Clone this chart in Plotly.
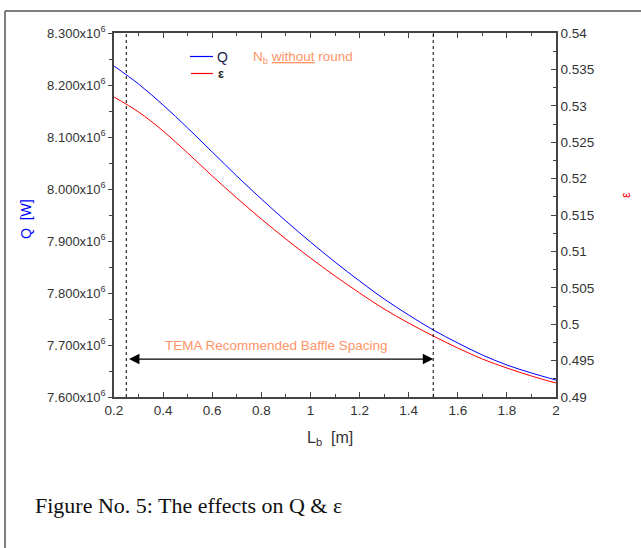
import plotly.graph_objects as go

# ---- data ----
Lb = [0.2, 0.3, 0.4, 0.5, 0.6, 0.7, 0.8, 0.9, 1.0, 1.1, 1.2, 1.3, 1.4, 1.5, 1.6, 1.7, 1.8, 1.9, 2.0]
Q_W = [8.2365e6, 8.2019e6, 8.1615e6, 8.1173e6, 8.0712e6, 8.0250e6, 7.9808e6, 7.9385e6, 7.8981e6,
       7.8596e6, 7.8231e6, 7.7885e6, 7.7577e6, 7.7289e6, 7.7039e6, 7.6808e6, 7.6615e6, 7.6462e6, 7.6327e6]
eps = [0.53121, 0.52915, 0.52654, 0.52352, 0.52036, 0.51734, 0.51445, 0.51170, 0.50909, 0.50662,
       0.50429, 0.50209, 0.50016, 0.49838, 0.49673, 0.49522, 0.49398, 0.49288, 0.49192]

q_ticks = [7.6e6, 7.7e6, 7.8e6, 7.9e6, 8.0e6, 8.1e6, 8.2e6, 8.3e6]
q_ticktext = ["7.600x10<sup>6</sup>", "7.700x10<sup>6</sup>", "7.800x10<sup>6</sup>", "7.900x10<sup>6</sup>",
              "8.000x10<sup>6</sup>", "8.100x10<sup>6</sup>", "8.200x10<sup>6</sup>", "8.300x10<sup>6</sup>"]
eps_ticks = [0.49, 0.495, 0.5, 0.505, 0.51, 0.515, 0.52, 0.525, 0.53, 0.535, 0.54]
eps_ticktext = ["0.49", "0.495", "0.5", "0.505", "0.51", "0.515", "0.52", "0.525", "0.53", "0.535", "0.54"]

tema_range = [0.25, 1.5]
arrow_Q = 7.673e6

W, H = 641, 548
L, R, T, B = 114, 85, 33, 151
pw, ph = W - L - R, H - T - B

def px(x):
    return (x - L) / pw

def py(y):
    return (H - B - y) / ph

AX = "#444444"
TXT = "#333333"
ORANGE = "#FF9466"
SANS = "Liberation Sans, Arial"

fig = go.Figure()
fig.add_trace(go.Scatter(x=Lb, y=Q_W, mode="lines", name="Q",
                         line=dict(color="#0000FF", width=1, shape="spline", smoothing=1.0), yaxis="y"))
fig.add_trace(go.Scatter(x=Lb, y=eps, mode="lines", name="ε",
                         line=dict(color="#FF0000", width=1, shape="spline", smoothing=1.0), yaxis="y2"))

fig.update_layout(
    width=W, height=H,
    margin=dict(l=L, r=R, t=T, b=B, pad=0),
    paper_bgcolor="white", plot_bgcolor="white",
    showlegend=False,
    xaxis=dict(range=[0.2, 2.0], dtick=0.2, tick0=0.2, showgrid=False, zeroline=False,
               showline=True, linecolor=AX, linewidth=1.5, mirror="ticks",
               ticks="inside", ticklen=5, tickcolor=AX,
               tickfont=dict(family=SANS, size=13.5, color=TXT),
               minor=dict(dtick=0.1, ticks="inside", ticklen=3, tickcolor=AX)),
    yaxis=dict(range=[7.6e6, 8.3e6], tickvals=q_ticks, ticktext=q_ticktext, showgrid=False, zeroline=False,
               showline=True, linecolor=AX, linewidth=1.5, ticks="outside", ticklen=4, tickcolor=AX,
               tickfont=dict(family=SANS, size=13, color=TXT),
               minor=dict(dtick=0.05e6, tick0=7.6e6, ticks="outside", ticklen=3, tickcolor=AX)),
    yaxis2=dict(range=[0.49, 0.54], tickvals=eps_ticks, ticktext=eps_ticktext, overlaying="y", side="right",
                anchor="x", showgrid=False, zeroline=False, showline=True, linecolor=AX, linewidth=1.5,
                ticks="inside", ticklen=5, tickcolor=AX,
                tickfont=dict(family=SANS, size=13.5, color=TXT),
                minor=dict(dtick=0.0025, tick0=0.49, ticks="inside", ticklen=3, tickcolor=AX)),
)

shapes = []
for xv in tema_range:
    shapes.append(dict(type="line", xref="x", yref="paper", x0=xv, x1=xv, y0=0, y1=1,
                       line=dict(color="black", width=1, dash="3px,3px")))
# outer frame (top and left edges)
shapes.append(dict(type="line", xref="paper", yref="paper", x0=px(5), x1=px(641), y0=py(11), y1=py(11),
                   line=dict(color="#555555", width=1.5)))
shapes.append(dict(type="line", xref="paper", yref="paper", x0=px(5), x1=px(5), y0=py(11), y1=py(548),
                   line=dict(color="#555555", width=1.5)))
# legend samples
shapes.append(dict(type="line", xref="paper", yref="paper", x0=px(190), x1=px(213), y0=py(56.5), y1=py(56.5),
                   line=dict(color="#0000FF", width=1.2)))
shapes.append(dict(type="line", xref="paper", yref="paper", x0=px(191), x1=px(213), y0=py(73.5), y1=py(73.5),
                   line=dict(color="#FF0000", width=1.2)))
fig.update_layout(shapes=shapes)

def txt(x, y, text, size, color, family=SANS, xanchor="center", angle=0):
    return dict(x=px(x), y=py(y), xref="paper", yref="paper", xanchor=xanchor, yanchor="middle",
                text=text, showarrow=False, textangle=angle, font=dict(family=family, size=size, color=color))

ann = []
ann.append(dict(x=tema_range[1], y=arrow_Q, ax=tema_range[0] + 0.005, ay=arrow_Q, xref="x", yref="y",
                axref="x", ayref="y", text="", showarrow=True, arrowhead=2, arrowside="end+start",
                arrowsize=1.6, arrowwidth=1.3, arrowcolor="black"))
ann.append(txt(276, 345, "TEMA Recommended Baffle Spacing", 13.5, ORANGE))
ann.append(txt(215, 57, "Q", 14, "#1a1a4a", xanchor="left"))
ann.append(txt(216, 74, "<b>ε</b>", 12.5, "#222222", xanchor="left"))
ann.append(txt(251, 57, "N<sub>b</sub> <u>without</u> round", 13.5, ORANGE, xanchor="left"))
ann.append(txt(330, 438, "L<sub>b</sub>  [m]", 16, TXT))
ann.append(txt(26, 219, "Q  [W]", 14, "#0000FF", angle=-90))
ann.append(txt(625, 195, "ε", 13, "#FF0000", angle=-90))
ann.append(txt(33, 505, "Figure No. 5: The effects on Q &amp; ε", 22, "#111111",
               family="Liberation Serif, Times New Roman", xanchor="left"))
fig.update_layout(annotations=ann)

fig.write_html("out.html")
